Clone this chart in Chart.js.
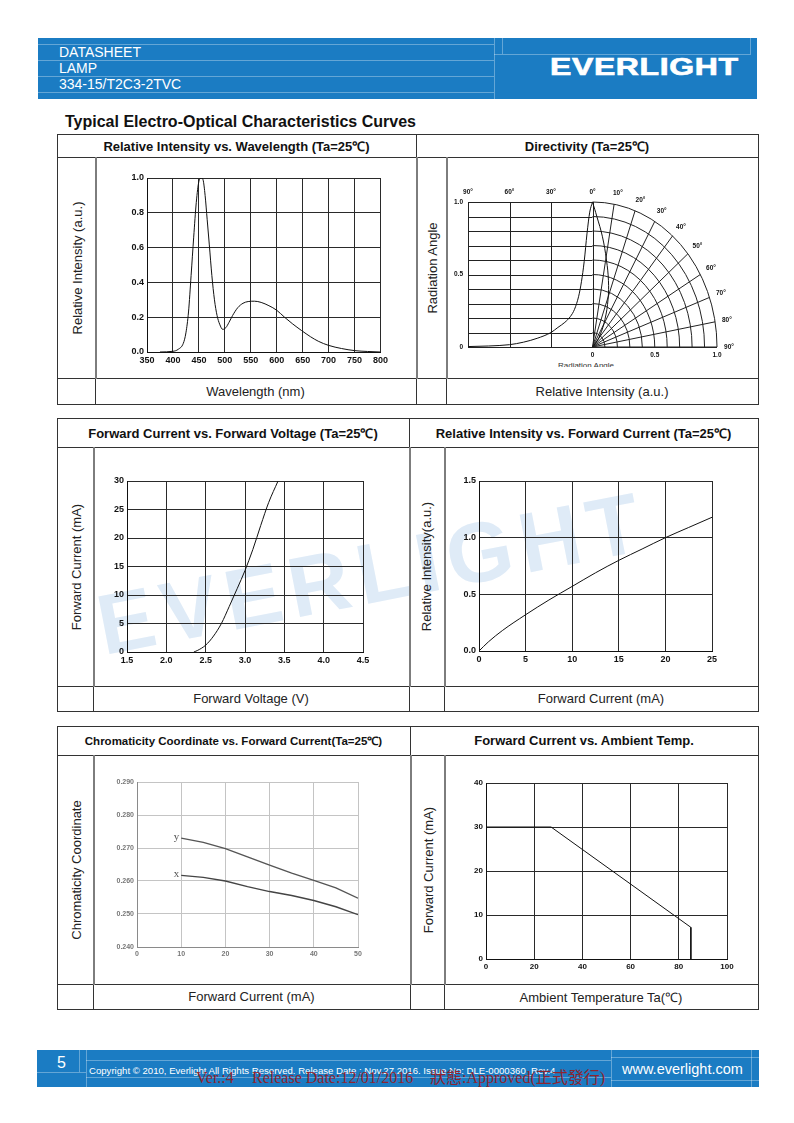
<!DOCTYPE html>
<html lang="en">
<head>
<meta charset="UTF-8">
<title>334-15/T2C3-2TVC - Typical Electro-Optical Characteristics Curves</title>
<script src="https://cdn.jsdelivr.net/npm/chart.js"></script>
<style>
  body { margin: 0; background: #fff; font-family: "Liberation Sans", Arial, sans-serif; }
  #page { position: relative; width: 794px; height: 1123px; overflow: hidden; }
  .band { position: absolute; background: #1b7cc3; color: #fff; overflow: hidden; }
  .band div { position: absolute; white-space: nowrap; }
  .bl { background: rgba(255,255,255,0.32); }
  #watermark {
    position: absolute; left: 105px; top: 583px; z-index: 0;
    font: bold 85px "Liberation Sans", Arial, sans-serif; line-height: 85px;
    letter-spacing: 8px; color: #dfebf7; white-space: nowrap;
    transform-origin: 0 77px; transform: rotate(-11deg);
  }
  canvas { position: absolute; z-index: 3; }
</style>
</head>
<body>
<div id="page">
  <div id="watermark">EVERLIGHT</div>

  <div class="band" style="left:38px;top:38px;width:719px;height:61px">
    <div class="bl" style="left:0;top:6px;width:456px;height:1px"></div>
    <div class="bl" style="left:0;top:22px;width:456px;height:1px"></div>
    <div class="bl" style="left:0;top:38px;width:456px;height:1px"></div>
    <div class="bl" style="left:0;top:54px;width:456px;height:1px"></div>
    <div class="bl" style="left:456px;top:0;width:1px;height:61px"></div>
    <div class="bl" style="left:464px;top:0;width:1px;height:16px"></div>
    <div class="bl" style="left:712px;top:0;width:1px;height:16px"></div>
    <div class="bl" style="left:456px;top:16px;width:257px;height:1px"></div>
    <div style="left:21px;top:6px;font-size:14px;line-height:16px">DATASHEET</div>
    <div style="left:21px;top:22px;font-size:14px;line-height:16px">LAMP</div>
    <div style="left:21px;top:38px;font-size:14px;line-height:16px">334-15/T2C3-2TVC</div>
    <div style="left:512px;top:17px;font:bold 24px 'Liberation Sans',Arial,sans-serif;line-height:24px;letter-spacing:0.5px;-webkit-text-stroke:0.7px #fff;transform-origin:0 0;transform:scaleX(1.33)">EVERLIGHT</div>
  </div>

  <div style="position:absolute;left:65px;top:113px;z-index:2;font:bold 16px 'Liberation Sans',Arial,sans-serif;line-height:18px;color:#111;white-space:nowrap">Typical Electro-Optical Characteristics Curves</div>

  <div style="position:absolute;left:500px;top:359px;width:172px;height:8px;overflow:hidden;z-index:2">
    <div style="position:absolute;left:0;top:2px;width:172px;text-align:center;font:8px 'Liberation Sans',Arial,sans-serif;color:#333">Radiation Angle</div>
  </div>

  <div class="band" style="left:37px;top:1050px;width:722px;height:37px">
    <div class="bl" style="left:42px;top:0;width:1px;height:22px"></div>
    <div class="bl" style="left:0;top:22px;width:49px;height:1px"></div>
    <div class="bl" style="left:49px;top:0;width:1px;height:37px"></div>
    <div class="bl" style="left:49px;top:10px;width:525px;height:1px"></div>
    <div class="bl" style="left:49px;top:27px;width:525px;height:1px"></div>
    <div class="bl" style="left:574px;top:0;width:1px;height:37px"></div>
    <div class="bl" style="left:574px;top:7px;width:148px;height:1px"></div>
    <div class="bl" style="left:574px;top:30px;width:148px;height:1px"></div>
    <div class="bl" style="left:714px;top:0;width:1px;height:37px"></div>
    <div style="left:20px;top:4px;font-size:16px;line-height:18px">5</div>
    <div style="left:52px;top:15px;font-size:9.6px;line-height:11px">Copyright © 2010, Everlight All Rights Reserved. Release Date : Nov.27.2016. Issue No: DLE-0000360_Rev.4</div>
    <div style="left:585px;top:11px;font-size:14.5px;line-height:16px">www.everlight.com</div>
    <div style="left:159px;top:19px;font:16px 'Liberation Serif','Noto Sans CJK TC',serif;line-height:18px;color:#8e2430">Ver.:4</div>
    <div style="left:215px;top:19px;font:16px 'Liberation Serif','Noto Sans CJK TC',serif;line-height:18px;color:#8e2430">Release Date:12/01/2016</div>
    <div style="left:393px;top:19px;font:16px 'Liberation Serif','Noto Sans CJK TC',serif;line-height:18px;color:#8e2430">狀態:Approved(正式發行)</div>
  </div>
</div>

<script>
  // ---- data ----

  // Relative intensity vs. wavelength
  const wlNm  = [375, 400, 410, 420, 425, 430, 435, 440, 445, 450, 455, 458, 462, 466, 470, 475, 480, 485, 490, 496, 502, 508, 515, 525, 535, 545, 557, 570, 585, 600, 615, 630, 648, 665, 680, 700, 725, 750, 775, 800];
  const wlRel = [0, 0.004, 0.015, 0.05, 0.11, 0.23, 0.44, 0.66, 0.86, 0.98, 1.0, 0.99, 0.9, 0.76, 0.62, 0.44, 0.3, 0.21, 0.16, 0.13, 0.14, 0.17, 0.21, 0.255, 0.28, 0.29, 0.292, 0.285, 0.266, 0.24, 0.2, 0.163, 0.123, 0.088, 0.062, 0.038, 0.02, 0.008, 0.003, 0];

  // Directivity: left half as intensity vs. angle, right half as polar lobe
  const dirAngle = [0, 2, 4, 6, 8, 10, 13, 16, 20, 25, 30, 40, 50, 60, 75, 90];
  const dirRel   = [1.0, 0.93, 0.78, 0.59, 0.45, 0.35, 0.26, 0.21, 0.17, 0.135, 0.1, 0.06, 0.033, 0.016, 0.007, 0.003];
  const lobeX = [0, 0.035, 0.08, 0.112, 0.128, 0.125, 0.1, 0.06, 0.025, 0];
  const lobeY = [1, 0.9, 0.76, 0.6, 0.46, 0.33, 0.19, 0.08, 0.025, 0];
  const dirRings = [0.1, 0.2, 0.3, 0.4, 0.5, 0.6, 0.7, 0.8, 0.9, 1.0];
  const dirTopAngles = [90, 60, 30, 0];
  const dirPolarAngles = [10, 20, 30, 40, 50, 60, 70, 80, 90];
  const dirLeftTicks = [0, 0.5, 1.0];
  const dirBottomTicks = [0, 0.5, 1.0];

  // Forward current vs. forward voltage
  const fvV = [2.35, 2.4, 2.5, 2.6, 2.7, 2.8, 2.9, 3.0, 3.1, 3.2, 3.3, 3.42];
  const fvI = [0, 0.3, 1.2, 2.8, 5.0, 8.0, 11.1, 14.3, 18.0, 22.2, 26.2, 30];

  // Relative intensity vs. forward current
  const ivI = [0, 1, 2.5, 5, 7.5, 10, 12.5, 15, 17.5, 20, 22.5, 25];
  const ivR = [0, 0.08, 0.18, 0.32, 0.45, 0.57, 0.69, 0.8, 0.9, 1.0, 1.09, 1.18];

  // Chromaticity coordinate vs. forward current
  const chI = [10, 15, 20, 25, 30, 35, 40, 45, 50];
  const chY = [0.273, 0.2717, 0.2698, 0.2673, 0.2648, 0.2624, 0.2602, 0.2579, 0.2548];
  const chX = [0.2617, 0.2611, 0.26, 0.2583, 0.2568, 0.2556, 0.2541, 0.2522, 0.2498];

  // Forward current derating vs. ambient temperature
  const taT = [0, 27, 85, 85];
  const taI = [30, 30, 7.2, 0];

  // ---- page frame ----
  const page = document.getElementById('page');
  const SANS = '"Liberation Sans", Arial, sans-serif';

  function el(css, html) {
    const e = document.createElement('div');
    e.style.cssText = 'position:absolute;z-index:2;' + css;
    if (html != null) e.innerHTML = html;
    page.appendChild(e);
    return e;
  }
  function hline(x1, x2, y, c = '#333', w = 1) {
    el(`left:${x1}px;top:${y}px;width:${x2 - x1 + 1}px;height:${w}px;background:${c}`);
  }
  function vline(x, y1, y2, c = '#333', w = 1) {
    el(`left:${x}px;top:${y1}px;width:${w}px;height:${y2 - y1 + 1}px;background:${c}`);
  }
  function cellText(txt, x1, y1, x2, y2, font, color = '#111') {
    el(`left:${x1}px;top:${y1}px;width:${x2 - x1}px;height:${y2 - y1}px;display:flex;align-items:center;justify-content:center;font:${font};color:${color};white-space:nowrap`, txt);
  }
  function vText(txt, x1, y1, x2, y2, font) {
    const w = y2 - y1, h = x2 - x1;
    el(`left:${(x1 + x2) / 2 - w / 2}px;top:${(y1 + y2) / 2 - h / 2}px;width:${w}px;height:${h}px;display:flex;align-items:center;justify-content:center;transform:rotate(-90deg);font:${font};color:#222;white-space:nowrap`, txt);
  }

  function section(s) {
    const L = 57, R = 758;
    hline(L, R, s.top);
    hline(L, R, s.titleBottom);
    hline(L, R, s.labelTop);
    hline(L, R, s.bottom);
    vline(L, s.top, s.bottom);
    vline(R, s.top, s.bottom);
    vline(s.mid, s.top, s.titleBottom);
    vline(s.mid, s.labelTop, s.bottom);
    vline(s.ln, s.labelTop, s.bottom);
    vline(s.rn, s.labelTop, s.bottom);
    // plot row dividers look grey and heavier
    vline(s.mid, s.titleBottom, s.labelTop, '#7d7d7d', 2);
    vline(s.ln, s.titleBottom, s.labelTop, '#7d7d7d', 2);
    vline(s.rn, s.titleBottom, s.labelTop, '#7d7d7d', 2);

    cellText(s.titles[0], L, s.top, s.mid, s.titleBottom, `bold ${s.titleSize[0]}px ${SANS}`);
    cellText(s.titles[1], s.mid, s.top, R, s.titleBottom, `bold ${s.titleSize[1]}px ${SANS}`);
    cellText(s.xLabels[0], s.ln, s.labelTop, s.mid, s.bottom, `13px ${SANS}`, '#222');
    cellText(s.xLabels[1], s.rn, s.labelTop, R, s.bottom, `13px ${SANS}`, '#222');
    vText(s.yLabels[0], L, s.titleBottom, s.ln, s.labelTop, `13px ${SANS}`);
    vText(s.yLabels[1], s.mid, s.titleBottom, s.rn, s.labelTop, `13px ${SANS}`);
  }

  section({ top: 134, titleBottom: 157, labelTop: 378, bottom: 404, mid: 416, ln: 95, rn: 446,
    titles: ['Relative Intensity vs. Wavelength (Ta=25℃)', 'Directivity (Ta=25℃)'], titleSize: [13, 13],
    xLabels: ['Wavelength (nm)', 'Relative Intensity (a.u.)'],
    yLabels: ['Relative Intensity (a.u.)', 'Radiation Angle'] });
  section({ top: 418, titleBottom: 447, labelTop: 686, bottom: 711, mid: 409, ln: 93, rn: 444,
    titles: ['Forward Current vs. Forward Voltage (Ta=25℃)', 'Relative Intensity vs. Forward Current (Ta=25℃)'], titleSize: [13, 13],
    xLabels: ['Forward Voltage (V)', 'Forward Current (mA)'],
    yLabels: ['Forward Current (mA)', 'Relative Intensity(a.u.)'] });
  section({ top: 726, titleBottom: 755, labelTop: 984, bottom: 1009, mid: 410, ln: 93, rn: 444,
    titles: ['Chromaticity Coordinate vs. Forward Current(Ta=25℃)', 'Forward Current vs. Ambient Temp.'], titleSize: [11.5, 13],
    xLabels: ['Forward Current (mA)', 'Ambient Temperature Ta(℃)'],
    yLabels: ['Chromaticity Coordinate', 'Forward Current (mA)'] });

  // ---- charts ----
  Chart.defaults.font.family = 'Liberation Sans';
  Chart.defaults.animation = false;

  // canvas whose chart area lands on the given page box
  function plotCanvas(l, t, r, b, pad = { l: 40, t: 10, r: 10, b: 20 }) {
    const c = document.createElement('canvas');
    const W = (r - l) + pad.l + pad.r, H = (b - t) + pad.t + pad.b;
    c.width = W; c.height = H;
    c.style.cssText = `left:${l - pad.l}px;top:${t - pad.t}px;width:${W}px;height:${H}px`;
    page.appendChild(c);
    return c;
  }

  function axis(min, max, step, fmt, isX, o = {}) {
    return {
      type: 'linear', min, max,
      ticks: { stepSize: step, callback: fmt, color: o.tick || '#111', autoSkip: false, maxRotation: 0,
        font: { size: o.size || 9, weight: o.weight || 'bold' }, padding: 3 },
      grid: { color: o.grid || '#2a2a2a', lineWidth: 1, drawTicks: false },
      border: { color: o.border || '#111', width: 1 },
      afterFit: s => { if (isX) s.height = 20; else s.width = 40; }
    };
  }

  function series(xs, ys, extra = {}) {
    return Object.assign({
      data: xs.map((x, i) => ({ x, y: ys[i] })),
      showLine: true, borderColor: '#111', borderWidth: 1, pointRadius: 0,
      cubicInterpolationMode: 'monotone', fill: false
    }, extra);
  }

  function cartesian(box, datasets, xAx, yAx, plugins = []) {
    return new Chart(plotCanvas(...box), {
      type: 'scatter',
      data: { datasets },
      options: {
        responsive: false, events: [],
        layout: { padding: { top: 10, right: 10, left: 0, bottom: 0 } },
        plugins: { legend: { display: false }, tooltip: { enabled: false } },
        scales: { x: xAx, y: yAx }
      },
      plugins
    });
  }

  const f1 = v => v.toFixed(1), f0 = v => v.toFixed(0), f3 = v => v.toFixed(3);

  // Relative intensity vs wavelength
  cartesian([147, 178, 381, 352], [series(wlNm, wlRel)],
    axis(350, 800, 50, f0, true), axis(0, 1, 0.2, f1, false));

  // Forward current vs forward voltage
  cartesian([127, 481, 363, 652], [series(fvV, fvI)],
    axis(1.5, 4.5, 0.5, f1, true), axis(0, 30, 5, f0, false));

  // Relative intensity vs forward current
  cartesian([479, 481, 712, 651], [series(ivI, ivR)],
    axis(0, 25, 5, f0, true), axis(0, 1.5, 0.5, f1, false));

  // Chromaticity
  const chromaLabels = {
    id: 'chromaLabels',
    afterDatasetsDraw(chart) {
      const { ctx, scales: { x, y } } = chart;
      ctx.save();
      ctx.font = '11px "Liberation Serif", serif';
      ctx.fillStyle = '#555';
      ctx.textAlign = 'right'; ctx.textBaseline = 'middle';
      chart.data.datasets.forEach(ds => {
        const p = ds.data[0];
        ctx.fillText(ds.label, x.getPixelForValue(p.x) - 2, y.getPixelForValue(p.y) - 1);
      });
      ctx.restore();
    }
  };
  const chromaAx = { tick: '#777', size: 7, weight: 'bold', grid: '#c4c4c4', border: '#8a8a8a' };
  cartesian([137, 782, 358, 947],
    [series(chI, chY, { label: 'y', borderColor: '#555', borderWidth: 1.4, cubicInterpolationMode: 'default', tension: 0 }),
     series(chI, chX, { label: 'x', borderColor: '#444', borderWidth: 1.4, cubicInterpolationMode: 'default', tension: 0 })],
    axis(0, 50, 10, f0, true, chromaAx), axis(0.24, 0.29, 0.01, f3, false, chromaAx), [chromaLabels]);

  // Forward current vs ambient temperature
  cartesian([486, 783, 727, 959], [series(taT, taI, { cubicInterpolationMode: 'default', tension: 0 })],
    axis(0, 100, 20, f0, true, { size: 8 }), axis(0, 40, 10, f0, false, { size: 8 }));

  // Directivity: x < 0 is the angle chart (0° .. 90° to the left), x > 0 the polar quarter
  const polarGrid = {
    id: 'polarGrid',
    beforeDatasetsDraw(chart) {
      const { ctx, scales: { x, y } } = chart;
      const X = v => x.getPixelForValue(v), Y = v => y.getPixelForValue(v);
      const seg = (x1, y1, x2, y2) => { ctx.beginPath(); ctx.moveTo(x1, y1); ctx.lineTo(x2, y2); ctx.stroke(); };
      const cx = X(0), cy = Y(0);
      ctx.save();
      ctx.strokeStyle = '#222'; ctx.lineWidth = 1;
      dirRings.forEach(r => seg(X(-1), Math.round(Y(r)) + 0.5, cx, Math.round(Y(r)) + 0.5));
      dirTopAngles.forEach(a => seg(Math.round(X(-a / 90)) + 0.5, cy, Math.round(X(-a / 90)) + 0.5, Y(1)));
      seg(X(-1), Math.round(cy) + 0.5, X(1), Math.round(cy) + 0.5);
      dirRings.forEach(r => {
        ctx.beginPath();
        ctx.ellipse(cx, cy, X(r) - cx, cy - Y(r), 0, -Math.PI / 2, 0);
        ctx.stroke();
      });
      dirPolarAngles.forEach(a => {
        const t = a * Math.PI / 180;
        seg(cx, cy, X(Math.sin(t)), Y(Math.cos(t)));
      });

      ctx.fillStyle = '#111';
      ctx.font = 'bold 6.5px "Liberation Sans"';
      ctx.textAlign = 'center'; ctx.textBaseline = 'middle';
      dirTopAngles.forEach(a => ctx.fillText(a + '°', X(-a / 90), Y(1) - 10));
      dirPolarAngles.forEach(a => {
        const t = a * Math.PI / 180;
        ctx.fillText(a + '°', X(1.08 * Math.sin(t)) + 2, Y(1.08 * Math.cos(t)));
      });
      dirBottomTicks.forEach(v => ctx.fillText(v === 0 ? '0' : v.toFixed(1), X(v), cy + 8));
      ctx.textAlign = 'right';
      dirLeftTicks.forEach(v => ctx.fillText(v === 0 ? '0' : v.toFixed(1), X(-1) - 5, Y(v)));
      ctx.restore();
    }
  };
  const leftPts = dirAngle.map((a, i) => ({ x: -a / 90, y: dirRel[i] })).reverse();
  const dirPad = { l: 40, t: 20, r: 25, b: 14 };
  new Chart(plotCanvas(468, 202, 717, 347, dirPad), {
    type: 'scatter',
    data: {
      datasets: [
        { data: leftPts, showLine: true, borderColor: '#111', borderWidth: 1, pointRadius: 0, cubicInterpolationMode: 'monotone' },
        { data: lobeX.map((v, i) => ({ x: v, y: lobeY[i] })), showLine: true, borderColor: '#111', borderWidth: 1, pointRadius: 0, tension: 0.4 }
      ]
    },
    options: {
      responsive: false, events: [],
      layout: { padding: { top: dirPad.t, right: dirPad.r, left: dirPad.l, bottom: dirPad.b } },
      plugins: { legend: { display: false }, tooltip: { enabled: false } },
      scales: {
        x: { type: 'linear', min: -1, max: 1, display: false },
        y: { type: 'linear', min: 0, max: 1, display: false }
      }
    },
    plugins: [polarGrid]
  });
</script>
</body>
</html>
